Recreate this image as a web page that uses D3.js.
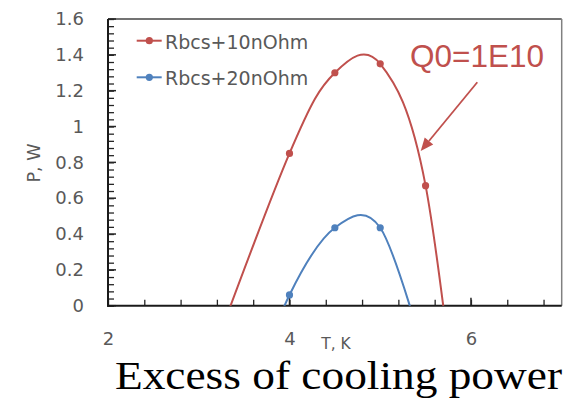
<!DOCTYPE html>
<html><head><meta charset="utf-8">
<script src="https://cdn.jsdelivr.net/npm/d3@7"></script>
<style>body{margin:0;background:#fff}svg{display:block}</style>
</head><body>
<script>
// Data (points below 0 are off-axis in the original and clipped by the axis minimum)
const seriesNames = ["Rbcs+10nOhm", "Rbcs+20nOhm"];
const tRed  = [3, 4, 4.5, 5, 5.5, 6];
const pRed  = [-0.48, 0.85, 1.30, 1.35, 0.67, -1.3];
const tBlue = [3.5, 4, 4.5, 5, 5.5];
const pBlue = [-0.6, 0.06, 0.435, 0.435, -0.3];
const xTickValues = [2, 4, 6];
const yTickValues = [0, 0.2, 0.4, 0.6, 0.8, 1, 1.2, 1.4, 1.6];
const yTickLabels = ["0", "0.2", "0.4", "0.6", "0.8", "1", "1.2", "1.4", "1.6"];
const xTitle = "T, K", yTitle = "P, W";
const annotation = "Q0=1E10";
const caption = "Excess of cooling power";
const colors = ["#C0504D", "#4F81BD"];

const W = 566, H = 398;
const L = 108, R = 561.7, T = 19, B = 305.7;
const svg = d3.select("body").append("svg").attr("width", W).attr("height", H);
const x = d3.scaleLinear().domain([2, 7]).range([L, R]);
const y = d3.scaleLinear().domain([0, 1.6]).range([B, T]);
const gray = "#595959";
const sans = "'DejaVu Sans', sans-serif";

svg.append("defs").append("clipPath").attr("id", "plot")
  .append("rect").attr("x", L).attr("y", T).attr("width", R - L).attr("height", B - T);

// border top/right
svg.append("line").attr("x1", L).attr("x2", R).attr("y1", T).attr("y2", T).attr("stroke", "#444").attr("stroke-width", 1.3);
svg.append("line").attr("x1", R).attr("x2", R).attr("y1", T).attr("y2", B).attr("stroke", "#808080").attr("stroke-width", 1.5);

// minor ticks
const yMinor = d3.range(0, 1.6001, 0.04);
const xMinor = d3.range(2, 6.9, 0.4);
const gym = svg.append("g").attr("transform", `translate(${L},0)`)
  .call(d3.axisRight(y).tickValues(yMinor).tickSize(6).tickFormat(""));
gym.select(".domain").remove();
gym.selectAll("line").attr("stroke", "#262626").attr("stroke-width", 1.3);
const gxm = svg.append("g").attr("transform", `translate(0,${B})`)
  .call(d3.axisTop(x).tickValues(xMinor).tickSize(6).tickFormat(""));
gxm.select(".domain").remove();
gxm.selectAll("line").attr("stroke", "#262626").attr("stroke-width", 1.3);

// major axes
const gy = svg.append("g").attr("transform", `translate(${L},0)`)
  .call(d3.axisLeft(y).tickValues(yTickValues).tickSize(0).tickPadding(24)
    .tickFormat((d, i) => yTickLabels[i]));
gy.select(".domain").remove();
gy.selectAll("text").attr("font-family", sans).attr("font-size", 18).attr("fill", gray);
svg.append("g").selectAll("line").data(yTickValues).join("line")
  .attr("x1", L).attr("x2", L + 8).attr("y1", d => y(d)).attr("y2", d => y(d))
  .attr("stroke", "#262626").attr("stroke-width", 1.5);

const gx = svg.append("g").attr("transform", `translate(0,${B})`)
  .call(d3.axisBottom(x).tickValues(xTickValues).tickSize(0).tickPadding(27).tickFormat(d3.format("d")));
gx.select(".domain").remove();
gx.selectAll("text").attr("font-family", sans).attr("font-size", 18).attr("fill", gray);
svg.append("g").selectAll("line").data(xTickValues).join("line")
  .attr("x1", d => x(d)).attr("x2", d => x(d)).attr("y1", B).attr("y2", B - 8)
  .attr("stroke", "#262626").attr("stroke-width", 1.5);

// axis lines
svg.append("line").attr("x1", L).attr("x2", L).attr("y1", T).attr("y2", B + 1).attr("stroke", "#1a1a1a").attr("stroke-width", 2);
svg.append("line").attr("x1", L - 1).attr("x2", R).attr("y1", B).attr("y2", B).attr("stroke", "#1a1a1a").attr("stroke-width", 2);

// series
const series = [
  {name: seriesNames[0], t: tRed, p: pRed, c: colors[0]},
  {name: seriesNames[1], t: tBlue, p: pBlue, c: colors[1]}
];
const line = d3.line().x(d => x(d[0])).y(d => y(d[1])).curve(d3.curveCardinal.tension(0));
const gp = svg.append("g").attr("clip-path", "url(#plot)");
series.forEach(s => {
  const pts = s.t.map((t, i) => [t, s.p[i]]);
  gp.append("path").datum(pts).attr("d", line).attr("fill", "none").attr("stroke", s.c).attr("stroke-width", 2);
  gp.selectAll(null).data(pts.filter(d => d[1] >= 0)).join("circle")
    .attr("cx", d => x(d[0])).attr("cy", d => y(d[1])).attr("r", 3.6).attr("fill", s.c);
});

// legend
series.forEach((s, i) => {
  const ly = 40.7 + i * 36.6;
  const g = svg.append("g");
  g.append("line").attr("x1", 136.7).attr("x2", 161.7).attr("y1", ly).attr("y2", ly).attr("stroke", s.c).attr("stroke-width", 2);
  g.append("circle").attr("cx", 149.3).attr("cy", ly).attr("r", 3.6).attr("fill", s.c);
  g.append("text").attr("x", 165).attr("y", ly + 8).attr("font-family", sans).attr("font-size", 19)
    .attr("fill", gray).text(s.name);
});

// annotation
svg.append("text").attr("x", 410).attr("y", 66.7).attr("font-family", "'Liberation Sans', Arial, sans-serif")
  .attr("font-size", 31.5).attr("fill", colors[0]).text(annotation);
const ax1 = 477.3, ay1 = 82.3, ax2 = 420.7, ay2 = 151;
const ang = Math.atan2(ay2 - ay1, ax2 - ax1);
const hl = 13, hw = 5.5;
const bx = ax2 - hl * Math.cos(ang), by = ay2 - hl * Math.sin(ang);
svg.append("line").attr("x1", ax1).attr("y1", ay1).attr("x2", bx).attr("y2", by).attr("stroke", colors[0]).attr("stroke-width", 1.8);
svg.append("path").attr("d", `M${ax2},${ay2}L${bx + hw * Math.sin(ang)},${by - hw * Math.cos(ang)}L${bx - hw * Math.sin(ang)},${by + hw * Math.cos(ang)}Z`)
  .attr("fill", colors[0]);

// axis titles
svg.append("text").attr("x", 336).attr("y", 349).attr("text-anchor", "middle").attr("font-family", sans)
  .attr("font-size", 15.5).attr("fill", gray).text(xTitle);
svg.append("text").attr("transform", "translate(40,163) rotate(-90)").attr("text-anchor", "middle")
  .attr("font-family", sans).attr("font-size", 17.5).attr("fill", gray).text(yTitle);

// caption
svg.append("text").attr("x", 115).attr("y", 389).attr("font-family", "'Liberation Serif', 'Times New Roman', serif")
  .attr("font-size", 40).attr("textLength", 447).attr("lengthAdjust", "spacingAndGlyphs").attr("fill", "#000").text(caption);
</script>
</body></html>
